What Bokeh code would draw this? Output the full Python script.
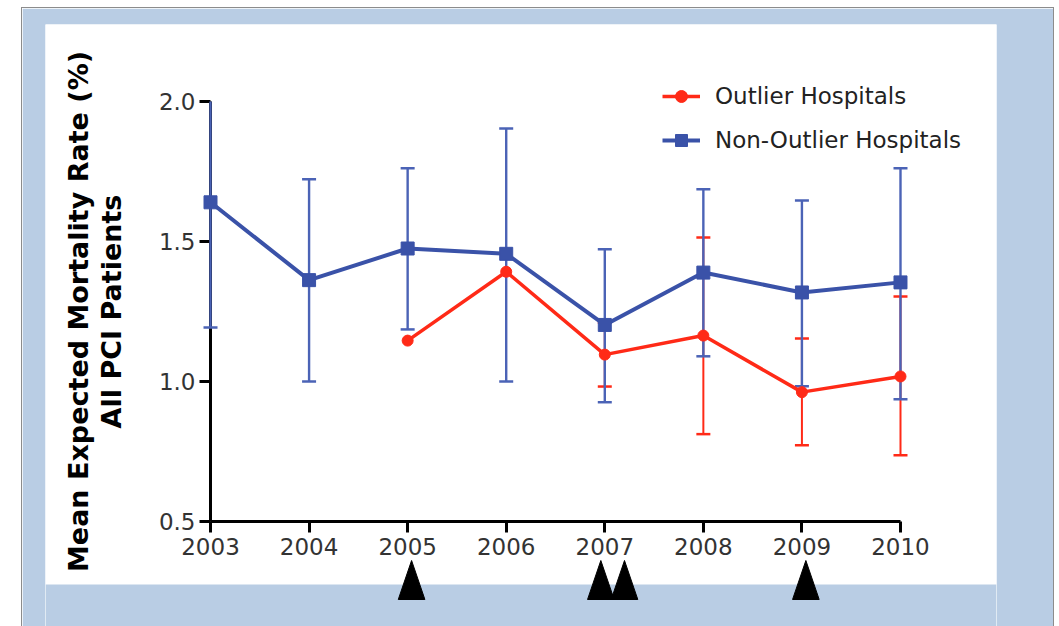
from bokeh.plotting import figure
from bokeh.models import (ColumnDataSource, Legend, LegendItem, BoxAnnotation,
                          FixedTicker, Range1d, CustomJSTickFormatter)
from bokeh.embed import file_html
from bokeh.resources import INLINE
import numpy as np

# ---------------- data ----------------
years = [2003, 2004, 2005, 2006, 2007, 2008, 2009, 2010]
non_outlier_mean = [1.64, 1.362, 1.475, 1.456, 1.202, 1.389, 1.318, 1.354]
non_outlier_upper = [2.0, 1.722, 1.762, 1.904, 1.472, 1.687, 1.646, 1.762]
non_outlier_lower = [1.193, 1.0, 1.186, 1.0, 0.926, 1.09, 0.983, 0.937]

outlier_years = [2005, 2006, 2007, 2008, 2009, 2010]
outlier_mean = [1.146, 1.392, 1.096, 1.164, 0.962, 1.018]
outlier_upper = [np.nan, np.nan, 1.21, 1.514, 1.154, 1.304]
outlier_lower = [np.nan, np.nan, 0.982, 0.812, 0.772, 0.737]

event_years = [2005.04, 2006.96, 2007.2, 2009.04]

x_ticks = years
y_ticks = [0.5, 1.0, 1.5, 2.0]

BLUE = "#3a52a8"
BLUE_ERR = "#4b63b6"
RED = "#ff2a17"
FRAME_BLUE = "#b9cde4"

p = figure(width=1031, height=618, output_backend="svg", toolbar_location=None,
           x_range=Range1d(2001.326, 2010.974), y_range=Range1d(0.125, 2.275),
           min_border_left=23, min_border_right=57, min_border_top=16, min_border_bottom=0,
           margin=(8, 0, 0, 22),
           styles={"outline": "1px solid #8c8c8c"})
p.background_fill_color = "white"
p.border_fill_color = FRAME_BLUE
p.outline_line_color = None
p.xgrid.visible = False
p.ygrid.visible = False

# bottom blue band of the frame
p.add_layout(BoxAnnotation(top=0.275, fill_color=FRAME_BLUE, fill_alpha=1.0,
                           line_color=None, level="underlay"))

# axes
for ax in (p.xaxis[0], p.yaxis[0]):
    ax.level = "underlay"
    ax.axis_line_width = 3
    ax.axis_line_color = "black"
    ax.major_tick_line_width = 3
    ax.major_tick_line_color = "black"
    ax.major_tick_in = 0
    ax.major_tick_out = 11
    ax.minor_tick_line_color = None
    ax.major_label_text_font = "DejaVu Sans"
    ax.major_label_text_font_size = "23px"
    ax.major_label_text_color = "#333333"

p.xaxis.fixed_location = 0.5
p.yaxis.fixed_location = 2003
p.xaxis.bounds = (2003, 2010)
p.yaxis.bounds = (0.5, 2.0)
p.xaxis.ticker = FixedTicker(ticks=x_ticks)
p.yaxis.ticker = FixedTicker(ticks=y_ticks)
p.yaxis.formatter = CustomJSTickFormatter(code="return tick.toFixed(1);")
p.xaxis.formatter = CustomJSTickFormatter(code="return tick.toFixed(0);")
p.xaxis.major_label_standoff = 5
p.yaxis.major_label_standoff = 4

p.yaxis.axis_label = "Mean Expected Mortality Rate (%)\nAll PCI Patients"
p.yaxis.axis_label_text_font = "DejaVu Sans"
p.yaxis.axis_label_text_font_style = "bold"
p.yaxis.axis_label_text_font_size = "27px"
p.yaxis.axis_label_text_color = "black"
p.yaxis.axis_label_text_line_height = 1.05
p.yaxis.axis_label_standoff = 29

# ---------------- error bars ----------------
o_src = ColumnDataSource(dict(x=outlier_years, y=outlier_mean,
                              lo=outlier_lower, hi=outlier_upper))
n_src = ColumnDataSource(dict(x=years, y=non_outlier_mean,
                              lo=non_outlier_lower, hi=non_outlier_upper))

p.segment(x0="x", y0="lo", x1="x", y1="hi", source=o_src, line_color=RED, line_width=2)
p.scatter(x="x", y="lo", source=o_src, marker="dash", size=14, line_color=RED, line_width=2.5)
p.scatter(x="x", y="hi", source=o_src, marker="dash", size=14, line_color=RED, line_width=2.5)

p.segment(x0="x", y0="lo", x1="x", y1="hi", source=n_src, line_color=BLUE_ERR, line_width=2.4)
p.scatter(x="x", y="lo", source=n_src, marker="dash", size=14, line_color=BLUE_ERR, line_width=2.5)
cap_hi_x = [x for x, h in zip(years, non_outlier_upper) if h < max(y_ticks)]
cap_hi_y = [h for h in non_outlier_upper if h < max(y_ticks)]
p.scatter(cap_hi_x, cap_hi_y, marker="dash", size=14, line_color=BLUE_ERR, line_width=2.5)

# ---------------- series ----------------
n_line = p.line(x="x", y="y", source=n_src, line_color=BLUE, line_width=4)
n_pts = p.scatter(x="x", y="y", source=n_src, marker="square", size=13,
                  fill_color=BLUE, line_color=BLUE)
o_line = p.line(x="x", y="y", source=o_src, line_color=RED, line_width=3.5)
o_pts = p.scatter(x="x", y="y", source=o_src, marker="circle", size=11,
                  fill_color=RED, line_color=RED)

# ---------------- event triangles ----------------
hw = 0.135
tri_xs = [[e - hw, e + hw, e] for e in event_years]
tri_ys = [[0.2214, 0.2214, 0.3607] for _ in event_years]
p.patches(tri_xs, tri_ys, fill_color="black", line_color="black")

# ---------------- legend ----------------
legend = Legend(items=[LegendItem(label="Outlier Hospitals", renderers=[o_line, o_pts]),
                       LegendItem(label="Non-Outlier Hospitals", renderers=[n_line, n_pts])],
                location=(617, 471))
legend.margin = 0
legend.padding = 0
legend.spacing = 14
legend.glyph_width = 38
legend.glyph_height = 30
legend.label_height = 30
legend.label_standoff = 15
legend.label_text_font = "DejaVu Sans"
legend.label_text_font_size = "23px"
legend.label_text_color = "#222222"
legend.border_line_color = None
legend.background_fill_alpha = 0
p.add_layout(legend)

open("out.html", "w").write(file_html(p, INLINE))
